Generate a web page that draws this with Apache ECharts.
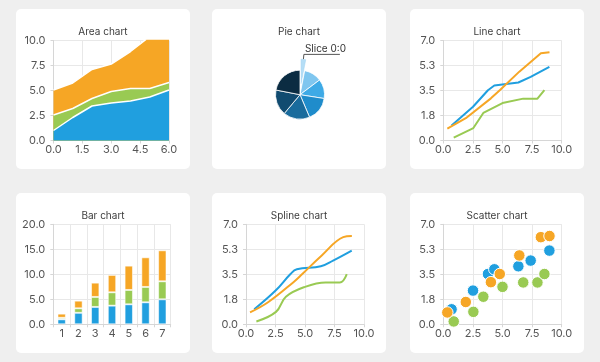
<!DOCTYPE html>
<html><head><meta charset="utf-8">
<script src="https://cdn.jsdelivr.net/npm/echarts@6/dist/echarts.min.js"></script>
<style>
html,body{margin:0;padding:0;background:#efefef;width:600px;height:362px;overflow:hidden;}
.card{position:absolute;background:#fff;border-radius:5px;width:174px;height:160px;}
</style></head>
<body>
<div class="card" id="c1" style="left:16px;top:9px"></div>
<div class="card" id="c2" style="left:212px;top:9px"></div>
<div class="card" id="c3" style="left:410px;top:9px"></div>
<div class="card" id="c4" style="left:16px;top:193px"></div>
<div class="card" id="c5" style="left:212px;top:193px"></div>
<div class="card" id="c6" style="left:410px;top:193px"></div>
<script>
// ---- data ----
const areaX = [0, 1, 2, 3, 4, 5, 6];
const areaBlueTop = [1.0, 2.3, 3.45, 3.75, 3.95, 4.35, 5.05];
const areaGreenTop = [2.55, 3.2, 4.2, 4.9, 5.2, 5.2, 5.8];
const areaOrangeTop = [5.05, 5.75, 7.1, 7.65, 8.9, 10.4, 10.6];

const pieLabels = ['Slice 0:0', 'Slice 0:1', 'Slice 0:2', 'Slice 0:3', 'Slice 0:4', 'Slice 0:5', 'Slice 0:6'];
const pieValues = [11, 42, 46, 58, 63, 61, 79];

const blueX = [0.70, 2.51, 3.77, 4.31, 6.34, 7.38, 8.96];
const blueY = [1.05, 2.36, 3.52, 3.85, 4.06, 4.46, 5.16];
const greenX = [0.88, 2.54, 3.38, 5.0, 6.75, 7.95, 8.54];
const greenY = [0.2, 0.87, 1.93, 2.62, 2.93, 2.93, 3.52];
const orangeX = [0.34, 1.9, 4.02, 4.77, 6.42, 8.24, 8.97];
const orangeY = [0.83, 1.56, 2.95, 3.52, 4.82, 6.1, 6.18];

const barCategories = ['1', '2', '3', '4', '5', '6', '7'];
const barBlue = [1.0, 2.3, 3.47, 3.73, 4.0, 4.4, 5.0];
const barGreen = [0.3, 0.9, 2.0, 2.67, 2.87, 3.07, 3.6];
const barOrange = [0.83, 1.53, 2.86, 3.47, 4.86, 5.93, 6.2];

// ---- style ----
const BLUE = '#209fdf', GREEN = '#99ca53', ORANGE = '#f6a625';
const FONT = 'Inter, Roboto, sans-serif';
const pieColors = ['#b5def6', '#7fc6ef', '#3eaae6', '#1f8ccb', '#196b9c', '#114b70', '#0b2c42'];

function zip(xs, ys) { return xs.map((x, i) => [x, ys[i]]); }
function fmt1(v) { return v.toFixed(1); }

function title(t) {
  return { text: t, left: 'center', top: 13,
    textStyle: { fontSize: 10, fontWeight: 'normal', color: '#3c3c3c', fontFamily: FONT } };
}
function valAxis(min, max, interval, isX) {
  return {
    type: 'value', min: min, max: max, interval: interval,
    axisLine: { show: true, lineStyle: { color: '#d6d6d6', width: 1 } },
    axisTick: { show: true, length: 3, lineStyle: { color: '#d6d6d6' } },
    splitLine: { show: true, lineStyle: { color: '#e8e8e8', width: 1 } },
    axisLabel: { color: '#555', fontSize: 11, fontFamily: FONT, margin: isX ? 4 : 8, formatter: fmt1, showMinLabel: true, showMaxLabel: true }
  };
}

function mk(id, opt) {
  const c = echarts.init(document.getElementById(id), null, { renderer: 'canvas' });
  opt.animation = false;
  c.setOption(opt);
}

// Area chart
mk('c1', {
  title: title('Area chart'),
  grid: { left: 37.5, right: 21, top: 31.5, bottom: 28.5 },
  xAxis: valAxis(0, 6, 1.5, true),
  yAxis: valAxis(0, 10, 2.5, false),
  series: [
    { type: 'line', data: zip(areaX, areaOrangeTop), symbol: 'none', lineStyle: { color: '#fff', width: 1.5 }, areaStyle: { color: ORANGE, opacity: 1 } },
    { type: 'line', data: zip(areaX, areaGreenTop), symbol: 'none', lineStyle: { color: '#fff', width: 1.5 }, areaStyle: { color: GREEN, opacity: 1 } },
    { type: 'line', data: zip(areaX, areaBlueTop), symbol: 'none', lineStyle: { color: '#fff', width: 1.5 }, areaStyle: { color: BLUE, opacity: 1 } }
  ]
});

// Pie chart
mk('c2', {
  title: title('Pie chart'),
  series: [{
    type: 'pie', center: [88, 85.7], radius: 24.5, startAngle: 90, clockwise: true,
    selectedMode: 'single', selectedOffset: 11,
    itemStyle: { borderColor: '#fff', borderWidth: 0.8 },
    label: { show: false },
    labelLine: { show: false },
    emphasis: { disabled: true },
    data: pieValues.map((v, i) => {
      const d = { value: v, name: pieLabels[i], itemStyle: { color: pieColors[i] } };
      if (i === 0) {
        d.selected = true;
        d.itemStyle = { color: pieColors[i], borderColor: '#9fd3f2', borderWidth: 0.5 };
        d.label = { show: true, position: 'outside', distanceToLabelLine: -35,
          formatter: '{a|{b}}\n{s| }',
          rich: {
            a: { color: '#333', fontSize: 10, fontFamily: FONT, lineHeight: 12 },
            s: { fontSize: 1, lineHeight: 11 }
          } };
        d.labelLine = { show: true, length: 5, length2: 36, smooth: false, lineStyle: { color: '#555', width: 1 } };
      }
      return d;
    })
  }]
});

// Line chart
mk('c3', {
  title: title('Line chart'),
  grid: { left: 33.3, right: 22.3, top: 31.5, bottom: 28.5 },
  xAxis: valAxis(0, 10, 2.5, true),
  yAxis: valAxis(0, 7, 1.75, false),
  series: [
    { type: 'line', data: zip(blueX, blueY), symbol: 'none', lineStyle: { color: BLUE, width: 2 } },
    { type: 'line', data: zip(greenX, greenY), symbol: 'none', lineStyle: { color: GREEN, width: 2 } },
    { type: 'line', data: zip(orangeX, orangeY), symbol: 'none', lineStyle: { color: ORANGE, width: 2 } }
  ]
});

// Bar chart
const barX = {
  type: 'category', data: barCategories, boundaryGap: true,
  axisLine: { show: true, lineStyle: { color: '#d6d6d6' } },
  axisTick: { show: true, length: 3, lineStyle: { color: '#d6d6d6' } },
  splitLine: { show: true, lineStyle: { color: '#e8e8e8' } },
  axisLabel: { color: '#555', fontSize: 11, fontFamily: FONT, margin: 4 }
};
const barStyle = c => ({ color: c, borderColor: 'rgba(255,255,255,0.55)', borderWidth: 1 });
mk('c4', {
  title: title('Bar chart'),
  grid: { left: 37.3, right: 19.3, top: 31.3, bottom: 28.7 },
  xAxis: barX,
  yAxis: valAxis(0, 20, 5, false),
  series: [
    { type: 'bar', stack: 's', data: barBlue, barWidth: '50%', itemStyle: barStyle(BLUE) },
    { type: 'bar', stack: 's', data: barGreen, barWidth: '50%', itemStyle: barStyle(GREEN) },
    { type: 'bar', stack: 's', data: barOrange, barWidth: '50%', itemStyle: barStyle(ORANGE) }
  ]
});

// Spline chart
mk('c5', {
  title: title('Spline chart'),
  grid: { left: 34, right: 22, top: 31.3, bottom: 28.7 },
  xAxis: valAxis(0, 10, 2.5, true),
  yAxis: valAxis(0, 7, 1.75, false),
  series: [
    { type: 'line', smooth: 0.4, data: zip(blueX, blueY), symbol: 'none', lineStyle: { color: BLUE, width: 2 } },
    { type: 'line', smooth: 0.4, data: zip(greenX, greenY), symbol: 'none', lineStyle: { color: GREEN, width: 2 } },
    { type: 'line', smooth: 0.4, data: zip(orangeX, orangeY), symbol: 'none', lineStyle: { color: ORANGE, width: 2 } }
  ]
});

// Scatter chart
const sc = c => ({ color: c, borderColor: '#fff', borderWidth: 1, opacity: 1 });
mk('c6', {
  title: title('Scatter chart'),
  grid: { left: 33.3, right: 22.3, top: 31.3, bottom: 28.7 },
  xAxis: valAxis(0, 10, 2.5, true),
  yAxis: valAxis(0, 7, 1.75, false),
  series: [
    { type: 'scatter', data: zip(blueX, blueY), symbolSize: 11.5, itemStyle: sc(BLUE) },
    { type: 'scatter', data: zip(greenX, greenY), symbolSize: 11.5, itemStyle: sc(GREEN) },
    { type: 'scatter', data: zip(orangeX, orangeY), symbolSize: 11.5, itemStyle: sc(ORANGE) }
  ]
});
</script>
</body></html>
